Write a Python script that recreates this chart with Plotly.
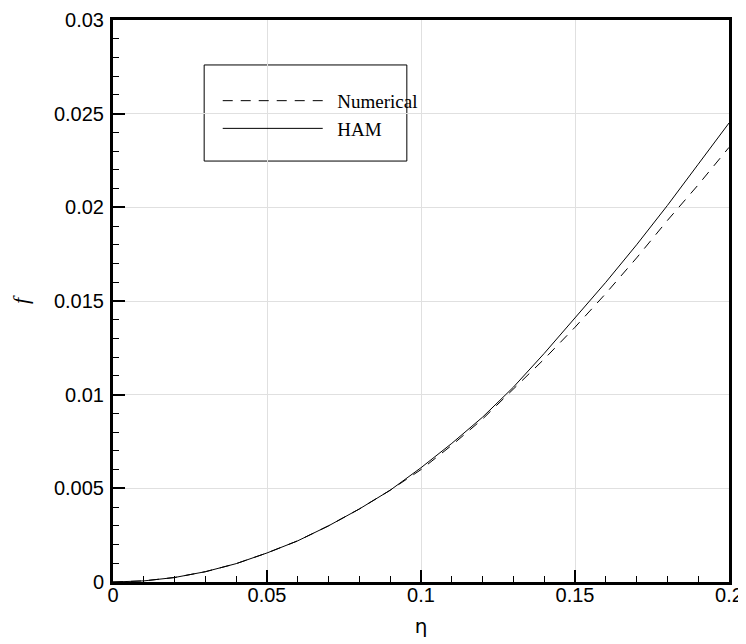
import plotly.graph_objects as go

eta = [0.00, 0.01, 0.02, 0.03, 0.04, 0.05, 0.06, 0.07, 0.08, 0.09, 0.10,
       0.11, 0.12, 0.13, 0.14, 0.15, 0.16, 0.17, 0.18, 0.19, 0.20]
f_numerical = [0.0, 0.00006, 0.00024, 0.00055, 0.00098, 0.00155, 0.0022, 0.0030, 0.0039, 0.0049, 0.0060,
               0.0073, 0.0087, 0.0103, 0.0119, 0.0136, 0.0154, 0.0173, 0.0193, 0.0212, 0.0232]
f_ham = [0.0, 0.00006, 0.00024, 0.00055, 0.00098, 0.00155, 0.0022, 0.0030, 0.0039, 0.0049, 0.0061,
         0.0074, 0.0088, 0.0104, 0.0122, 0.0141, 0.0160, 0.0180, 0.0201, 0.0223, 0.0245]

x_ticks = [0, 0.05, 0.1, 0.15, 0.2]
x_ticklabels = ["0", "0.05", "0.1", "0.15", "0.2"]
y_ticks = [0, 0.005, 0.01, 0.015, 0.02, 0.025, 0.03]
y_ticklabels = ["0", "0.005", "0.01", "0.015", "0.02", "0.025", "0.03"]

fig = go.Figure()
fig.add_trace(go.Scatter(x=eta, y=f_numerical, mode="lines", name="\u00a0\u00a0Numerical",
                         line=dict(color="black", width=1, dash="10px,8px")))
fig.add_trace(go.Scatter(x=eta, y=f_ham, mode="lines", name="\u00a0\u00a0HAM",
                         line=dict(color="black", width=1)))

tickfont = dict(family="Liberation Sans", size=20, color="black")
axis_common = dict(
    showline=True, linewidth=3, linecolor="black", mirror=True,
    showgrid=True, gridcolor="#e0e0e0", gridwidth=1, zeroline=False,
    ticks="inside", ticklen=12, tickwidth=2, tickcolor="black",
    tickfont=tickfont, automargin=False,
)

fig.update_xaxes(range=[0, 0.2], tickvals=x_ticks, ticktext=x_ticklabels,
                 minor=dict(ticks="inside", ticklen=6, tickwidth=1, tickcolor="black", dtick=0.01, showgrid=False),
                 ticklabelstandoff=-7,
                 title=dict(text="η", font=dict(family="DejaVu Sans", size=20, color="black"), standoff=14),
                 **axis_common)
fig.update_yaxes(range=[0, 0.03], tickvals=y_ticks, ticktext=y_ticklabels,
                 minor=dict(ticks="inside", ticklen=6, tickwidth=1, tickcolor="black", dtick=0.001, showgrid=False),
                 ticklabelstandoff=2,
                 title=dict(text="<i>f</i>", font=dict(family="Liberation Serif", size=22, color="black"), standoff=20),
                 **axis_common)

fig.add_shape(type="rect", xref="paper", yref="paper",
              x0=0.148, x1=0.477, y0=0.749, y1=0.92,
              line=dict(color="black", width=1), fillcolor="white", layer="below")

fig.update_layout(
    width=738, height=636,
    margin=dict(l=105, r=17, t=12, b=62),
    plot_bgcolor="white", paper_bgcolor="white",
    showlegend=True,
    legend=dict(x=0.17, y=0.89, xanchor="left", yanchor="top",
                bgcolor="rgba(0,0,0,0)", borderwidth=0,
                font=dict(family="Liberation Serif", size=19, color="black"),
                itemwidth=100, tracegroupgap=0),
)

fig.write_html("out.html")
